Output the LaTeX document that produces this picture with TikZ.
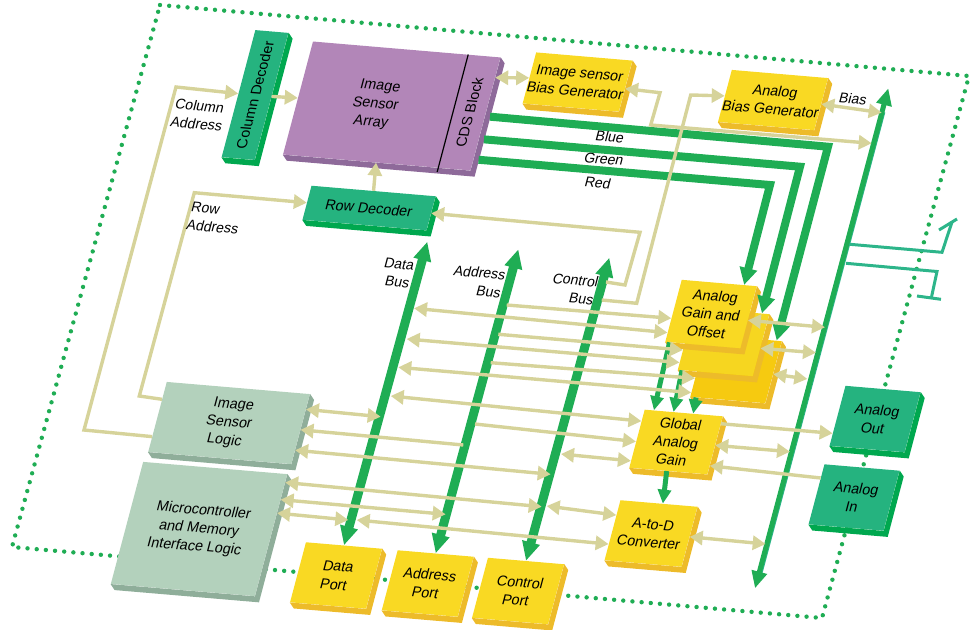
\documentclass[tikz,border=0pt]{standalone}
\usepackage{fontspec}
\setmainfont{Liberation Sans}
\definecolor{busgreen}{HTML}{1FAD54}
\definecolor{tealface}{HTML}{25B37F}
\definecolor{tealside}{HTML}{00A84F}
\definecolor{tealline}{HTML}{2DB58A}
\definecolor{yellowface}{HTML}{F9D923}
\definecolor{yellowside}{HTML}{EDBB2A}
\definecolor{yellowmid}{HTML}{F6D620}
\definecolor{yellowback}{HTML}{F6CA10}
\definecolor{purpleface}{HTML}{B286B8}
\definecolor{purpleside}{HTML}{8E6A9A}
\definecolor{sageface}{HTML}{B3D1BC}
\definecolor{sageside}{HTML}{8FAE9A}
\definecolor{khaki}{HTML}{D6D39A}
\usetikzlibrary{arrows.meta,calc}
\newcommand{\eside}[2]{($(#1.north east)!#2!(#1.south east)$)}
\newcommand{\wside}[2]{($(#1.north west)!#2!(#1.south west)$)}
\begin{document}
\begin{tikzpicture}[x=1pt,y=-1pt,
  blk/.style={cm={1,-0.085,0.265,1,(0,0)},transform shape,inner sep=0pt,align=center,font=\fontsize{14.3}{18}\selectfont},
  lbl/.style={blk,font=\fontsize{14}{18}\selectfont},
  port/.style={blk,fill=yellowface,minimum width=76pt,minimum height=60pt},
  tealbox/.style={blk,fill=tealface,minimum width=75pt,minimum height=60pt},
  rim/.style={draw=busgreen,line width=4.4pt,line cap=round,dash pattern=on 0pt off 9.2pt},
  bus/.style={draw=busgreen,line width=9pt,{Triangle[length=19pt,width=17pt]}-{Triangle[length=19pt,width=17pt]}},
  rgb/.style={draw=busgreen,line width=8pt,shorten <=5pt,-{Triangle[length=17pt,width=17pt]}},
  feed/.style={draw=busgreen,line width=5pt,-{Triangle[length=14pt,width=13pt]}},
  arr/.style={draw=khaki,line width=3.4pt,-{Triangle[length=13pt,width=14pt]}},
  dbl/.style={draw=khaki,line width=3.4pt,{Triangle[length=13pt,width=14pt]}-{Triangle[length=13pt,width=14pt]}},
  back/.style={draw=khaki,line width=3.4pt,{Triangle[length=13pt,width=14pt]}-},
  wire/.style={draw=tealline,line width=3pt}]
\useasboundingbox (0,0) rectangle (973,629);
\draw[rim] (160,5) -- (969,76) -- (822,618) -- (12,547) -- cycle;
\node[blk,fill=tealface,minimum width=33pt,minimum height=127pt] (col) at (255,95) {\rotatebox{90}{Column Decoder}};
\node[blk,fill=purpleface,minimum width=155pt,minimum height=113pt] (array) at (375.5,104.6) {Image\\Sensor\\Array};
\node[blk,fill=purpleface,minimum width=32pt,minimum height=113pt,anchor=west] (cds) at (array.east) {\rotatebox{90}{CDS Block}};
\node[blk,fill=tealface,minimum width=124pt,minimum height=34pt] (row) at (369,208) {Row Decoder};
\node[blk,fill=yellowface,minimum width=96pt,minimum height=51pt] (isb) at (577.5,82) {Image sensor\\Bias Generator};
\node[blk,fill=yellowface,minimum width=95pt,minimum height=52pt] (abg) at (773,100) {Analog\\Bias Generator};
\node[blk,fill=yellowback,minimum width=75pt,minimum height=62pt] (gainb) at (736,369) {};
\node[blk,fill=yellowmid,minimum width=75pt,minimum height=62pt] (gaing) at (723.5,342) {};
\node[blk,fill=yellowface,minimum width=75pt,minimum height=62pt] (gainr) at (711,314) {Analog\\Gain and\\Offset};
\node[blk,fill=yellowface,minimum width=78pt,minimum height=58pt] (glob) at (676,442) {Global\\Analog\\Gain};
\node[port,minimum width=77pt] (adc) at (651,533.5) {A-to-D\\Converter};
\node[tealbox] (aout) at (875,419) {Analog\\Out};
\node[tealbox] (ain) at (854,497.5) {Analog\\In};
\node[blk,fill=sageface,minimum width=143pt,minimum height=70pt] (isl) at (229,423) {Image\\Sensor\\Logic};
\node[blk,fill=sageface,minimum width=144pt,minimum height=122pt] (mcu) at (199,529) {Microcontroller\\and Memory\\Interface Logic};
\node[port] (dport) at (336,575.5) {Data\\Port};
\node[port] (aport) at (427.7,583.5) {Address\\Port};
\node[port] (cport) at (518,591) {Control\\Port};
% block edges
\foreach \a/\b/\c in {col/col/tealside,array/cds/purpleside,row/row/tealside,isb/isb/yellowside,abg/abg/yellowside,gainb/gainb/yellowside,gaing/gaing/yellowside,gainr/gainr/yellowside,glob/glob/yellowside,adc/adc/yellowside,aout/aout/tealside,ain/ain/tealside,isl/isl/sageside,mcu/mcu/sageside,dport/dport/yellowside,aport/aport/yellowside,cport/cport/yellowside}
  \fill[\c] (\b.north east) -- ++(4,6) -- ($(\b.south east)+(4,6)$) -- ($(\a.south west)+(4,6)$) -- (\a.south west) -- (\b.south east) -- cycle;
\draw[line width=1.2pt] (array.north east) -- ($(array.south east)+(-1,4)$);
% buses
\coordinate (dtop) at (427.3,241.7);
\coordinate (atop) at (518.3,249.3);
\coordinate (ctop) at (609.3,257.7);
\coordinate (ptop) at (888.3,88.3);
\coordinate (pbot) at (755,588.3);
\draw[bus] (dport.north) -- (dtop);
\draw[bus] (aport.north) -- (atop);
\draw[bus] (cport.north) -- (ctop);
\draw[wire,line width=2pt] ($(ptop)+(-4,24)$) -- ($(pbot)+(6.2,-14)$);
\draw[draw=busgreen,line width=5pt,{Triangle[length=17pt,width=15pt]}-{Triangle[length=17pt,width=15pt]}] (pbot) -- (ptop);
% red green blue
\coordinate (bcor) at (828,146.7);
\coordinate (gcor) at (800,166.7);
\coordinate (rcor) at (770,185);
\draw[rgb,line join=miter] \eside{cds}{.52} -- (bcor) -- ($(gainb.north west)!.93!(gainb.north east)$);
\draw[rgb,line join=miter] \eside{cds}{.72} -- (gcor) -- ($(gaing.north west)!.9!(gaing.north east)$);
\draw[rgb,line join=miter] \eside{cds}{.9} -- (rcor) -- ($(gainr.north west)!.83!(gainr.north east)$);
% gain to global
\draw[feed] ($(gainr.south west)!.06!(gainr.south east)$) -- ($(glob.north west)!.12!(glob.north east)$);
\draw[feed] ($(gaing.south west)!.06!(gaing.south east)$) -- ($(glob.north west)!.37!(glob.north east)$);
\draw[feed] ($(gainb.south west)!.08!(gainb.south east)$) -- ($(glob.north west)!.62!(glob.north east)$);
\draw[feed] ($(glob.south west)!.48!(glob.south east)$) -- ($(adc.north west)!.55!(adc.north east)$);
% array and decoders
\coordinate (cb1) at (84,430);
\coordinate (cb2) at (176,87);
\coordinate (rb1) at (139.3,396);
\coordinate (rb2) at (194.3,192.7);
\draw[arr] \wside{isl}{.78} -- (cb1) -- (cb2) -- (col.west);
\draw[arr] \wside{isl}{.25} -- (rb1) -- (rb2) -- (row.west);
\draw[arr] (col.east) -- (array.west);
\draw[arr] (row.north) -- ($(array.south west)!.6!(array.south east)$);
\draw[dbl] \eside{cds}{.18} -- (isb.west);
\coordinate (c1) at (606,282);
\coordinate (c2) at (625,285);
\coordinate (c3) at (640,232.3);
\coordinate (c4) at (601.7,300);
\coordinate (c5) at (636.7,303.3);
\coordinate (c6) at (690.7,95);
\draw[arr] (c1) -- (c2) -- (c3) -- (row.east);
\draw[arr] (c4) -- (c5) -- (c6) -- (abg.west);
\coordinate (s1) at (660,92.7);
\coordinate (s2) at (650.7,125);
\coordinate (s3) at (871.7,143.3);
\draw[dbl] \eside{isb}{.55} -- (s1) -- (s2) -- (s3);
\coordinate (bias) at (881.7,112.7);
\draw[dbl] (abg.east) -- (bias);
% to gain stages
\coordinate (a1) at (506.7,305);
\coordinate (d1) at (414,308.3);
\coordinate (a2) at (498.3,334.3);
\coordinate (d2) at (406.7,339);
\coordinate (a3) at (490.7,362.7);
\coordinate (d3) at (398.3,367.3);
\coordinate (d4) at (390.7,396);
\coordinate (a4) at (475,424);
\coordinate (c7) at (561,454);
\draw[arr] (a1) -- \wside{gainr}{.62};
\draw[dbl] (d1) -- \wside{gainr}{.85};
\draw[arr] (a2) -- \wside{gaing}{.68};
\draw[dbl] (d2) -- \wside{gaing}{.88};
\draw[arr] (a3) -- \wside{gainb}{.7};
\draw[dbl] (d3) -- \wside{gainb}{.93};
\draw[dbl] (d4) -- \wside{glob}{.2};
\draw[arr] (a4) -- \wside{glob}{.55};
\draw[dbl] (c7) -- \wside{glob}{.88};
% logic blocks
\coordinate (d5) at (380.7,416.7);
\coordinate (a5) at (463.3,445);
\coordinate (c8) at (550.7,474.3);
\coordinate (c9) at (541.7,506.7);
\coordinate (a6) at (445.7,514.3);
\coordinate (d6) at (348.3,520);
\coordinate (c10) at (546.7,506);
\coordinate (d7) at (356.7,520);
\draw[dbl] \eside{isl}{.22} -- (d5);
\draw[back] \eside{isl}{.51} -- (a5);
\draw[dbl] \eside{isl}{.8} -- (c8);
\draw[dbl] \eside{mcu}{.07} -- (c9);
\draw[dbl] \eside{mcu}{.21} -- (a6);
\draw[dbl] \eside{mcu}{.32} -- (d6);
\draw[dbl] (c10) -- \wside{adc}{.25};
\draw[dbl] (d7) -- \wside{adc}{.73};
% power bus side
\coordinate (p1) at (825,327.3);
\coordinate (p2) at (816,352.7);
\coordinate (p3) at (807.3,379);
\coordinate (p4) at (790,451.7);
\coordinate (p5) at (765.7,544);
\draw[dbl] \eside{gainr}{.55} -- (p1);
\draw[dbl] \eside{gaing}{.55} -- (p2);
\draw[dbl] \eside{gainb}{.53} -- (p3);
\draw[arr] \eside{glob}{.13} -- \wside{aout}{.79};
\draw[dbl] \eside{glob}{.5} -- (p4);
\draw[back] \eside{glob}{.85} -- \wside{ain}{.23};
\draw[dbl] (adc.east) -- (p5);
% outputs
\coordinate (o1) at (850,244.3);
\coordinate (o2) at (942,252.3);
\coordinate (o3) at (952,222);
\coordinate (o4) at (846,263.3);
\coordinate (o5) at (937,271.5);
\coordinate (o6) at (931.5,297);
\coordinate (o7) at (939,230);
\coordinate (o8) at (957,219);
\coordinate (o9) at (917,296);
\coordinate (o10) at (941,299.3);
\draw[wire] (o1) -- (o2) -- (o3);
\draw[wire] (o7) -- (o8);
\draw[wire] (o4) -- (o5) -- (o6);
\draw[wire] (o9) -- (o10);
% labels
\node[lbl,align=left] (coladdr) at (199,115) {Column\\Address};
\node[lbl,align=left] (rowaddr) at (215,218) {Row\\Address};
\node[lbl] (blue) at (610,137) {Blue};
\node[lbl] (green) at (604,159) {Green};
\node[lbl] (red) at (598,183) {Red};
\node[lbl] (biaslbl) at (853,99) {Bias};
\node[lbl,align=right] (dlbl) at (397,273) {Data\\Bus};
\node[lbl,align=right] (albl) at (477.5,281.5) {Address\\Bus};
\node[lbl,align=right] (clbl) at (573.3,289) {Control\\Bus};
\end{tikzpicture}
\end{document}
